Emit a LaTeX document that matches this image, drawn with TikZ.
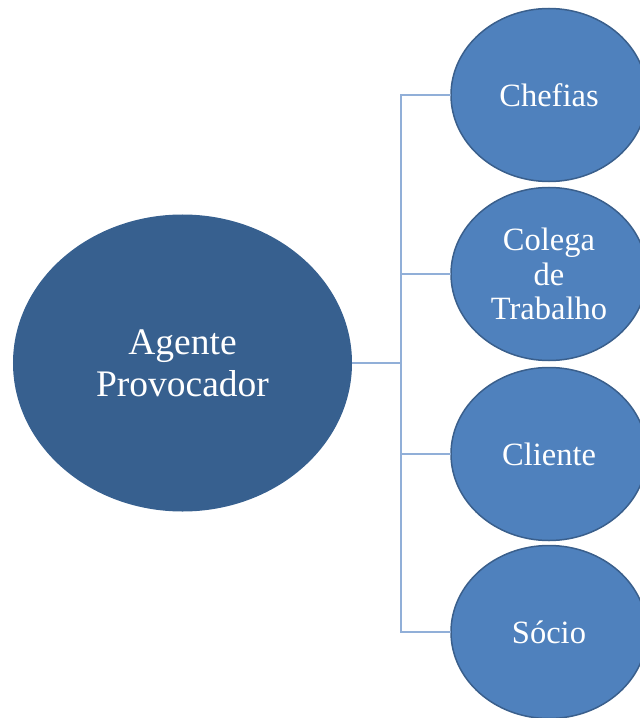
\documentclass[tikz,border=0pt]{standalone}
\usepackage{fontspec}
\setmainfont{Liberation Serif}
\usetikzlibrary{shapes.geometric}
\definecolor{hubfill}{HTML}{37608F}
\definecolor{leaffill}{HTML}{4F81BD}
\definecolor{leafedge}{HTML}{3A5F8C}
\definecolor{linkblue}{HTML}{91AFD8}
\tikzset{
  hub/.style={ellipse, fill=hubfill, inner sep=0pt, outer sep=0pt,
    minimum width=339bp, minimum height=297bp, text=white, align=center,
    font=\fontsize{37.5bp}{42bp}\selectfont},
  leaf/.style={ellipse, fill=leaffill, draw=leafedge, line width=1.5bp,
    inner sep=0pt, outer sep=0pt,
    minimum width=196bp, minimum height=173bp, text=white, align=center,
    font=\fontsize{32.5bp}{34.5bp}\selectfont},
  link/.style={draw=linkblue, line width=1.3bp}
}
\begin{document}
\begin{tikzpicture}[x=1bp,y=-1bp]
  \useasboundingbox (0,0) rectangle (640,718);
  % central node
  \node[hub] (agente) at (182.5,363) {Agente\\Provocador};
  % branch nodes
  \node[leaf] (chefias) at (549,95) {Chefias};
  \node[leaf] (colega)  at (549,274) {Colega\\de\\Trabalho};
  \node[leaf] (cliente) at (549,454) {Cliente};
  \node[leaf] (socio)   at (549,632) {Sócio};
  % connectors: trunk from the hub, then one branch per leaf
  \coordinate (bus) at (401,363);
  \draw[link] (agente.east) -- (bus);
  \draw[link] (bus) |- (chefias.west);
  \draw[link] (bus) |- (colega.west);
  \draw[link] (bus) |- (cliente.west);
  \draw[link] (bus) |- (socio.west);
\end{tikzpicture}
\end{document}
